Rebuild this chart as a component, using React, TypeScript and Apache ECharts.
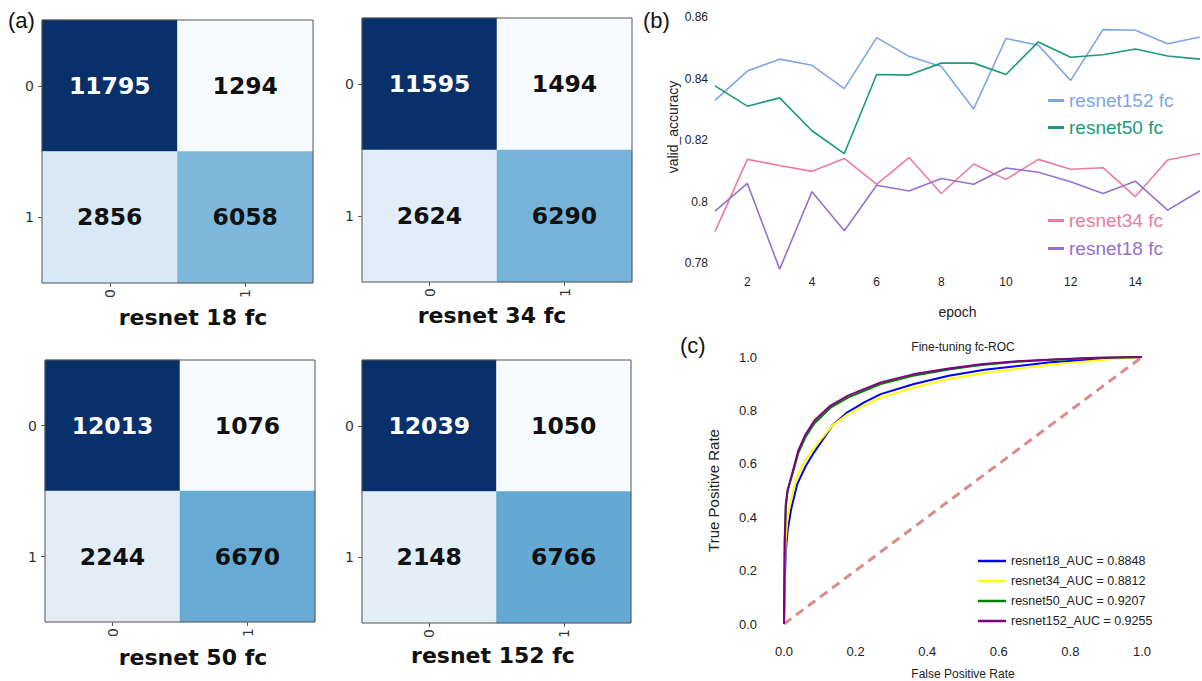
import React, { useEffect, useRef } from "react";
import * as echarts from "echarts";

// ---------- (a) confusion matrices ----------
const cmLabels = ["0", "1"];
const cmTitles = ["resnet 18 fc", "resnet 34 fc", "resnet 50 fc", "resnet 152 fc"];
const cm18 = [[11795, 1294], [2856, 6058]];
const cm34 = [[11595, 1494], [2624, 6290]];
const cm50 = [[12013, 1076], [2244, 6670]];
const cm152 = [[12039, 1050], [2148, 6766]];
const blues = ["#f7fbff", "#deebf7", "#c6dbef", "#9ecae1", "#6baed6", "#4292c6", "#2171b5", "#08519c", "#08306b"];

// ---------- (b) validation accuracy ----------
const epochs = [1, 2, 3, 4, 5, 6, 7, 8, 9, 10, 11, 12, 13, 14, 15, 16];
const epochTicks = [2, 4, 6, 8, 10, 12, 14];
const acc152 = [0.8329, 0.8424, 0.8463, 0.8443, 0.8367, 0.8533, 0.8472, 0.8439, 0.8301, 0.853, 0.8508, 0.8394, 0.8559, 0.8557, 0.8513, 0.8535];
const acc50 = [0.8376, 0.831, 0.8337, 0.823, 0.8156, 0.8413, 0.8411, 0.845, 0.845, 0.8413, 0.8519, 0.8469, 0.8477, 0.8496, 0.8473, 0.8463];
const acc34 = [0.7902, 0.8137, 0.8117, 0.8098, 0.814, 0.8056, 0.8143, 0.8026, 0.8122, 0.8072, 0.8137, 0.8105, 0.811, 0.8016, 0.8135, 0.8156];
const acc18 = [0.7969, 0.8059, 0.778, 0.8032, 0.7905, 0.8053, 0.8034, 0.8075, 0.8056, 0.8109, 0.8095, 0.8064, 0.8026, 0.8066, 0.7972, 0.8035];

// ---------- (c) ROC ----------
const fprFair = [0, 0.002, 0.005, 0.01, 0.02, 0.037, 0.06, 0.084, 0.135, 0.177, 0.224, 0.27, 0.363, 0.46, 0.56, 0.745, 0.93, 1];
const tpr18 = [0, 0.15, 0.27, 0.35, 0.43, 0.524, 0.59, 0.643, 0.743, 0.793, 0.83, 0.861, 0.899, 0.93, 0.952, 0.98, 0.996, 1];
const tpr34 = [0, 0.2, 0.32, 0.4, 0.47, 0.555, 0.615, 0.66, 0.743, 0.785, 0.818, 0.848, 0.886, 0.918, 0.94, 0.972, 0.993, 1];
const fprGood = [0, 0.002, 0.005, 0.01, 0.02, 0.04, 0.06, 0.085, 0.13, 0.18, 0.27, 0.36, 0.46, 0.55, 0.65, 0.75, 0.87, 1];
const tpr50 = [0, 0.32, 0.45, 0.5, 0.545, 0.64, 0.7, 0.752, 0.81, 0.849, 0.899, 0.93, 0.953, 0.97, 0.982, 0.99, 0.996, 1];
const tpr152 = [0, 0.3, 0.44, 0.5, 0.55, 0.65, 0.71, 0.762, 0.818, 0.856, 0.905, 0.935, 0.957, 0.973, 0.984, 0.991, 0.997, 1];
const chanceLine = [0, 1];
const rocNames = ["resnet18_AUC = 0.8848", "resnet34_AUC = 0.8812", "resnet50_AUC = 0.9207", "resnet152_AUC = 0.9255"];

const SANS = "Liberation Sans, Arial, sans-serif";
const DEJA = "DejaVu Sans, Verdana, sans-serif";

export default function App() {
  const ref = useRef<HTMLDivElement>(null);

  useEffect(() => {
    if (!ref.current) return;
    const chart = echarts.init(ref.current, null, { renderer: "svg" });

    const cms = [cm18, cm34, cm50, cm152];
    const hmGrids = [
      { left: 42, top: 20, width: 271, height: 263 },
      { left: 362, top: 18, width: 270, height: 264 },
      { left: 45, top: 360, width: 270, height: 262 },
      { left: 362, top: 360, width: 269, height: 263 },
    ];
    const titlePos = [[193, 317], [492, 315], [193, 657], [493, 655]];

    const grids: any[] = hmGrids.map((g) => ({
      ...g,
      show: true,
      z: 5,
      backgroundColor: "transparent",
      borderColor: "#555",
      borderWidth: 1,
    }));
    grids.push({ left: 715, right: 2, top: 17, bottom: 418 });
    grids.push({ left: 784, right: 60, top: 357, bottom: 57 });

    const xAxes: any[] = hmGrids.map((_, i) => ({
      type: "category",
      gridIndex: i,
      data: cmLabels,
      axisLine: { show: false },
      axisTick: { show: true, length: 4, alignWithLabel: true, lineStyle: { color: "#555" } },
      axisLabel: { rotate: 90, margin: 6, fontSize: 14, fontFamily: DEJA, color: "#333" },
      splitLine: { show: false },
    }));
    const yAxes: any[] = hmGrids.map((_, i) => ({
      type: "category",
      gridIndex: i,
      data: cmLabels,
      inverse: true,
      axisLine: { show: false },
      axisTick: { show: true, length: 4, alignWithLabel: true, lineStyle: { color: "#555" } },
      axisLabel: { margin: 8, fontSize: 14, fontFamily: DEJA, color: "#333" },
      splitLine: { show: false },
    }));

    xAxes.push({
      type: "value",
      gridIndex: 4,
      min: 1,
      max: 16,
      axisLine: { show: false },
      axisTick: { show: false },
      splitLine: { show: false },
      axisLabel: { customValues: epochTicks, margin: 13, fontSize: 12, fontFamily: SANS, color: "#222" },
      name: "epoch",
      nameLocation: "middle",
      nameGap: 42,
      nameTextStyle: { fontSize: 14, fontFamily: SANS, color: "#222" },
    });
    yAxes.push({
      type: "value",
      gridIndex: 4,
      min: 0.78,
      max: 0.86,
      interval: 0.02,
      axisLine: { show: false },
      axisTick: { show: false },
      splitLine: { show: false },
      axisLabel: { margin: 7, fontSize: 12, fontFamily: SANS, color: "#222" },
    });

    xAxes.push({
      type: "value",
      gridIndex: 5,
      min: 0,
      max: 1,
      interval: 0.2,
      axisLine: { show: false },
      axisTick: { show: false },
      splitLine: { show: false },
      axisLabel: { margin: 21, fontSize: 13, fontFamily: SANS, color: "#222", formatter: (v: number) => v.toFixed(1) },
      name: "False Positive Rate",
      nameLocation: "middle",
      nameGap: 44,
      nameTextStyle: { fontSize: 12, fontFamily: SANS, color: "#222" },
    });
    yAxes.push({
      type: "value",
      gridIndex: 5,
      min: 0,
      max: 1,
      interval: 0.2,
      axisLine: { show: false },
      axisTick: { show: false },
      splitLine: { show: false },
      axisLabel: { margin: 27, fontSize: 13, fontFamily: SANS, color: "#222", formatter: (v: number) => v.toFixed(1) },
      name: "True Positive Rate",
      nameLocation: "middle",
      nameGap: 63,
      nameTextStyle: { fontSize: 15, fontFamily: SANS, color: "#222" },
    });

    const series: any[] = [];
    const visualMaps: any[] = [];
    cms.forEach((m, i) => {
      const flat = m.flat();
      const mn = Math.min(...flat);
      const mx = Math.max(...flat);
      const thr = mn + 0.7 * (mx - mn);
      const data: any[] = [];
      m.forEach((row, r) =>
        row.forEach((v, c) => {
          data.push({ value: [c, r, v], label: { color: v > thr ? "#ffffff" : "#111111" } });
        })
      );
      series.push({
        type: "heatmap",
        xAxisIndex: i,
        yAxisIndex: i,
        data,
        label: {
          show: true,
          formatter: (p: any) => String(p.value[2]),
          fontSize: 23.5,
          fontWeight: "bold",
          fontFamily: DEJA,
        },
        emphasis: { disabled: true },
      });
      visualMaps.push({
        type: "continuous",
        show: false,
        seriesIndex: i,
        dimension: 2,
        min: mn,
        max: mx,
        inRange: { color: blues },
      });
    });

    const accSeries: [string, number[], string][] = [
      ["resnet152 fc", acc152, "#7fa6e3"],
      ["resnet50 fc", acc50, "#1c9a7c"],
      ["resnet34 fc", acc34, "#ea7ca0"],
      ["resnet18 fc", acc18, "#9672cc"],
    ];
    accSeries.forEach(([name, arr, color]) => {
      series.push({
        type: "line",
        name,
        xAxisIndex: 4,
        yAxisIndex: 4,
        data: epochs.map((e, k) => [e, arr[k]]),
        showSymbol: false,
        color,
        lineStyle: { width: 1.6, color },
        clip: false,
      });
    });

    const rocSeries: [string, number[], number[], string][] = [
      [rocNames[0], fprFair, tpr18, "#0000ff"],
      [rocNames[1], fprFair, tpr34, "#ffff00"],
      [rocNames[2], fprGood, tpr50, "#008000"],
      [rocNames[3], fprGood, tpr152, "#800080"],
    ];
    rocSeries.forEach(([name, xs, ys, color]) => {
      series.push({
        type: "line",
        name,
        xAxisIndex: 5,
        yAxisIndex: 5,
        data: xs.map((x, k) => [x, ys[k]]),
        showSymbol: false,
        smooth: false,
        color,
        lineStyle: { width: 2, color, join: "round" },
        clip: false,
      });
    });
    series.push({
      type: "line",
      name: "chance",
      xAxisIndex: 5,
      yAxisIndex: 5,
      data: chanceLine.map((v) => [v, v]),
      showSymbol: false,
      color: "#d88c8c",
      lineStyle: { width: 3, type: [9, 6], color: "#d88c8c" },
      clip: false,
      z: 1,
    });

    const legendText = (color: string) => ({ color, fontSize: 19, fontFamily: SANS });

    const option: any = {
      animation: false,
      backgroundColor: "#ffffff",
      grid: grids,
      xAxis: xAxes,
      yAxis: yAxes,
      visualMap: visualMaps,
      series,
      legend: [
        {
          orient: "vertical",
          left: 1043,
          top: 85,
          icon: "rect",
          itemWidth: 16,
          itemHeight: 3,
          itemGap: 6,
          selectedMode: false,
          textStyle: { fontSize: 19, fontFamily: SANS, lineHeight: 21 },
          data: [
            { name: "resnet152 fc", textStyle: legendText("#7fa6e3") },
            { name: "resnet50 fc", textStyle: legendText("#1c9a7c") },
          ],
        },
        {
          orient: "vertical",
          left: 1043,
          top: 205,
          icon: "rect",
          itemWidth: 16,
          itemHeight: 3,
          itemGap: 7,
          selectedMode: false,
          textStyle: { fontSize: 19, fontFamily: SANS, lineHeight: 21 },
          data: [
            { name: "resnet34 fc", textStyle: legendText("#ea7ca0") },
            { name: "resnet18 fc", textStyle: legendText("#9672cc") },
          ],
        },
        {
          orient: "vertical",
          left: 973,
          top: 549,
          icon: "rect",
          itemWidth: 28,
          itemHeight: 2.5,
          itemGap: 6,
          selectedMode: false,
          textStyle: { fontSize: 12.5, fontFamily: SANS, color: "#222", lineHeight: 14 },
          data: rocNames,
        },
      ],
      graphic: [
        ...cmTitles.map((t, i) => ({
          type: "text",
          x: titlePos[i][0],
          y: titlePos[i][1],
          style: {
            text: t,
            fontSize: 22,
            fontWeight: "bold",
            fontFamily: DEJA,
            fill: "#111",
            textAlign: "center",
            textVerticalAlign: "middle",
          },
        })),
        { type: "text", x: 8, y: 20, style: { text: "(a)", fontSize: 22, fontFamily: SANS, fill: "#111", textVerticalAlign: "middle" } },
        { type: "text", x: 643, y: 20, style: { text: "(b)", fontSize: 22, fontFamily: SANS, fill: "#111", textVerticalAlign: "middle" } },
        { type: "text", x: 680, y: 345, style: { text: "(c)", fontSize: 22, fontFamily: SANS, fill: "#111", textVerticalAlign: "middle" } },
        {
          type: "text",
          x: 673,
          y: 127,
          rotation: Math.PI / 2,
          style: { text: "valid_accuracy", fontSize: 14, fontFamily: SANS, fill: "#222", textAlign: "center", textVerticalAlign: "middle" },
        },
        {
          type: "text",
          x: 963,
          y: 347,
          style: { text: "Fine-tuning fc-ROC", fontSize: 12, fontFamily: SANS, fill: "#222", textAlign: "center", textVerticalAlign: "middle" },
        },
      ],
    };

    chart.setOption(option);
    return () => chart.dispose();
  }, []);

  return <div ref={ref} style={{ position: "absolute", left: 0, top: 0, width: 1202, height: 681 }} />;
}
